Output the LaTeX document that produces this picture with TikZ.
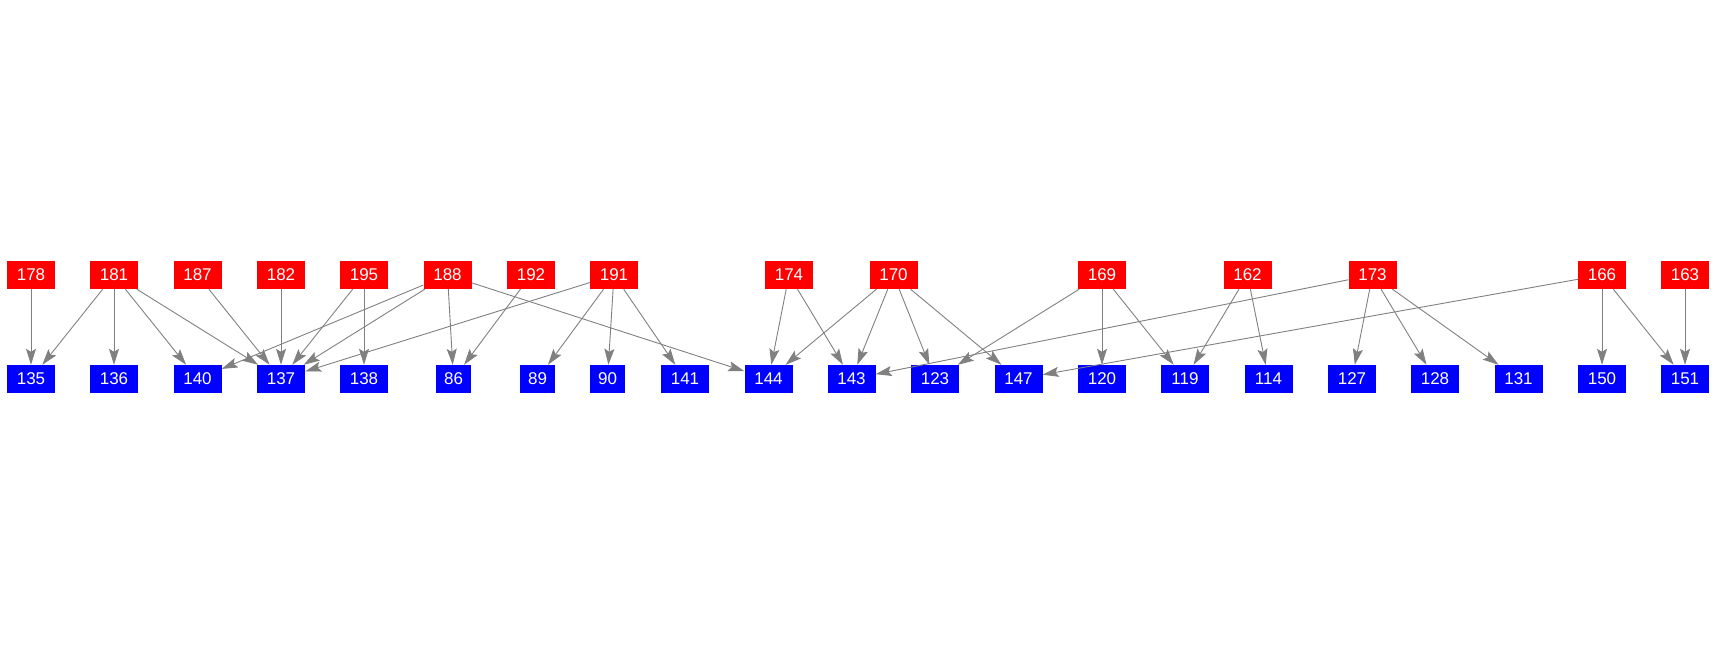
\documentclass[tikz,border=0pt]{standalone}
\usepackage{fontspec}
\setmainfont{Liberation Sans}
\usetikzlibrary{arrows.meta}

\tikzset{
  box/.style={minimum width=48pt,minimum height=28pt,inner sep=0pt,
    text=white,font=\fontsize{17}{20}\selectfont},
  src/.style={box,fill=red},
  dst/.style={box,fill=blue},
  narrow/.style={minimum width=35pt},
  edge/.style={draw=gray,line width=0.9pt,
    -{Stealth[length=16pt,width=10pt,inset=3pt]}}
}

\begin{document}
\begin{tikzpicture}[x=1pt,y=1pt]
\useasboundingbox (0,0) rectangle (1718,656);

% upper row
\foreach\n/\x in {178/31,181/114,187/197.5,182/281,195/364,188/447.5,
  192/531,191/614,174/789,170/893.5,169/1102,162/1247.5,173/1372.5,
  166/1602,163/1685}{
	\node[src] (r\n) at (\x,381) {\n};}

% lower row
\foreach\n/\x in {135/31,136/114,140/197.5,137/281,138/364,141/685,
  144/768.5,143/851.5,123/935,147/1018.5,120/1102,119/1185,114/1268.5,
  127/1352,128/1435,131/1518.5,150/1602,151/1685}{
	\node[dst] (b\n) at (\x,277) {\n};}
\foreach\n/\x in {86/453.5,89/537.5,90/607.5}{
	\node[dst,narrow] (b\n) at (\x,277) {\n};}

% links
\foreach\s/\t in {178/135,181/135,181/136,181/140,181/137,187/137,182/137,
  195/137,195/138,188/140,188/137,188/86,188/144,192/86,191/137,191/89,
  191/90,191/141,174/144,174/143,170/144,170/143,170/123,170/147,
  169/123,169/120,169/119,162/119,162/114,173/143,173/127,173/128,
  173/131,166/147,166/150,166/151,163/151}{
	\draw[edge] (r\s)--(b\t);}
\end{tikzpicture}
\end{document}
